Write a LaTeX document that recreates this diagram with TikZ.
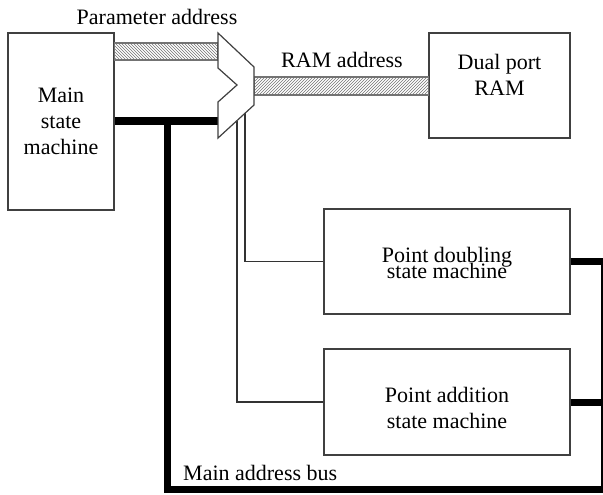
\documentclass[tikz,border=0pt]{standalone}
\usepackage{fontspec}
\setmainfont{Liberation Serif}
\usetikzlibrary{patterns}
\begin{document}
\begin{tikzpicture}[x=1pt,y=-1pt,
  box/.style={draw=black!75, line width=1.2pt, fill=white, inner sep=0pt},
  lbl/.style={font=\fontsize{22}{26}\selectfont, align=center, inner sep=0pt},
  bus/.style={line width=7pt},
  thinline/.style={line width=1.2pt, draw=black!80},
  hatchA/.style={draw=black!55, line width=1.2pt, pattern=north west lines, pattern color=black!55},
  hatchB/.style={draw=black!55, line width=1.2pt, pattern=north east lines, pattern color=black!55}]
\useasboundingbox (0,0) rectangle (603,495);

% boxes
\node[box, minimum width=106pt, minimum height=177pt, lbl] (main) at (61,121.5) {Main\\state\\machine};
\node[box, minimum width=141pt, minimum height=105pt] (ram) at (499.5,85.5) {};
\node[lbl] (ramtxt) at (499.5,75) {Dual port\\RAM};
\node[box, minimum width=246pt, minimum height=105pt] (pd) at (447,261.5) {};
\node[lbl] (pdtxt) at (447,262.5) {Point doubling\\[-10pt]state machine};
\node[box, minimum width=246pt, minimum height=106pt] (pa) at (447,402) {};
\node[lbl] (patxt) at (447,407.5) {Point addition\\state machine};

% multiplexer corners
\coordinate (m1) at (218,33);
\coordinate (m2) at (254,67);
\coordinate (m3) at (254,105);
\coordinate (m4) at (218,138);
\coordinate (m5) at (218,102);
\coordinate (m6) at (237,85);
\coordinate (m7) at (218,68);
\coordinate (mx) at (218,121);
\coordinate (j) at (167,121);
\coordinate (t1) at (245,113);
\coordinate (t2) at (237,120.6);

% hatched buses
\path[hatchA] (main.east |- 0,43) rectangle (218,60);
\path[hatchB] (254,77) rectangle (ram.west |- 0,95);

% thick main address bus
\draw[bus] (mx -| main.east) -- (mx);
\draw[bus] (j) -- (167,489.5) -- (603,489.5);
\draw[line width=2.5pt] (602,262) -- (602,489);
\draw[bus] (pd.east) -- (603,261.5);
\draw[bus] (pa.east) -- (603,402);

% thin control lines
\draw[thinline] (t1) -- (t1 |- pd.west) -- (pd.west);
\draw[thinline] (t2) -- (t2 |- pa.west) -- (pa.west);

% multiplexer
\draw[box, line join=miter] (m1) -- (m2) -- (m3) -- (m4) -- (m5) -- (m6) -- (m7) -- cycle;

% labels
\node[lbl, anchor=base] (pal) at (157,25) {Parameter address};
\node[lbl, anchor=base] (ral) at (342,68) {RAM address};
\node[lbl, anchor=base west] (mal) at (183,480) {Main address bus};
\end{tikzpicture}
\end{document}
